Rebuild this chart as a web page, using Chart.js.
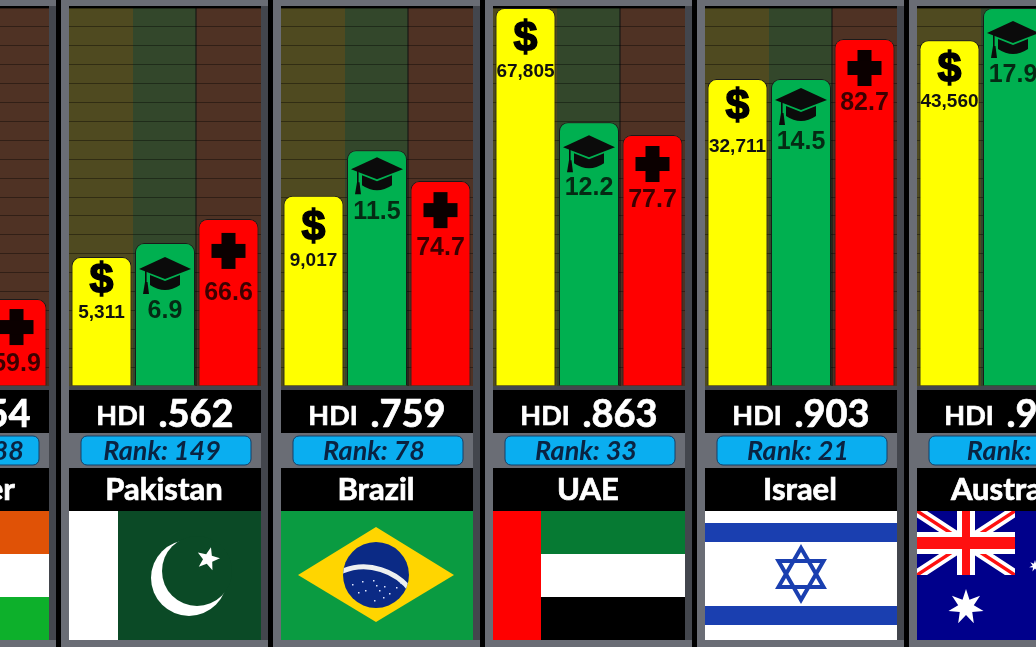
<!DOCTYPE html>
<html>
<head>
<meta charset="utf-8">
<title>HDI comparison</title>
<script src="https://cdn.jsdelivr.net/npm/chart.js@4"></script>
<style>
    html, body { margin: 0; padding: 0; background: #000; width: 1036px; height: 647px; overflow: hidden; }
    #wrap { position: absolute; left: -153px; top: 0; width: 1272px; height: 647px; }
</style>
</head>
<body>
<div id="wrap"><canvas id="chart_hdi" width="1272" height="647"></canvas></div>
<script>
/* ----------------------------------------------------------------------------
                                     DATA
---------------------------------------------------------------------------- */
const countries = ['Niger', 'Pakistan', 'Brazil', 'UAE', 'Israel', 'Australia'];
const hdiLabels = ['.354', '.562', '.759', '.863', '.903', '.944'];
const rankLabels = ['188', '149', '78', '33', '21', '8'];

// printed on the bars
const incomeLabels = ['1,201', '5,311', '9,017', '67,805', '32,711', '43,560'];
const schoolLabels = ['2.1', '6.9', '11.5', '12.2', '14.5', '17.9'];
const lifeLabels = ['59.9', '66.6', '74.7', '77.7', '82.7', '83.4'];

// how full each track is, in percent
const incomeLevel = [8, 34.1, 50.3, 100, 81.2, 91.5];
const schoolLevel = [12, 37.8, 62.4, 69.8, 81.2, 100];
const lifeLevel = [23, 44.2, 54.2, 66.4, 91.8, 97];

/* ----------------------------------------------------------------------------
                                    LAYOUT
---------------------------------------------------------------------------- */
const TOP = 8, BASE = 386;
const colors = {
    yellow: '#ffff00', green: '#00b050', red: '#ff0000',
    trackYellow: '#4f4a20', trackGreen: '#33472b', trackRed: '#4f3224',
    frame: '#6a6d75', frameDark: '#43464d', pill: '#0aaef0', ink: '#0a2342'
};
// label drop below the top of a bar: [icon, value] per country
const incomeDrop = [[28, 63], [23, 56], [31, 65], [30, 64], [27, 68], [29, 62]];
const schoolDrop = [[30, 66], [31, 68], [24, 62], [30, 66], [26, 63], [30, 67]];
const lifeDrop = [[28, 65], [32, 74], [29, 67], [29, 65], [29, 64], [29, 64]];
// the first panel's texts sit off centre
const hdiShift = [9, 0, 0, 0, 0, 0];
const rankShift = [15, 0, 0, 0, 0, 0];
const nameShift = [25, 0, 0, 0, 0, 0];

/* ----------------------------------------------------------------------------
                                  FUNCTIONS
---------------------------------------------------------------------------- */
function star(ctx, x, y, r, inner, points, rot) {
    ctx.beginPath();
    for (let i = 0; i < points * 2; i++) {
        let rad = (i % 2 == 0) ? r : inner;
        let a = rot + i * Math.PI / points;
        ctx.lineTo(x + Math.sin(a) * rad, y - Math.cos(a) * rad);
    }
    ctx.closePath();
    ctx.fill();
}

function dollar(ctx, x, y) {
    ctx.font = 'bold 43px "Liberation Sans"';
    ctx.fillStyle = '#000';
    ctx.strokeStyle = '#000';
    ctx.lineWidth = 1.5;
    ctx.strokeText('$', x, y + 1);
    ctx.fillText('$', x, y + 1);
}

function gradCap(ctx, x, y) {
    ctx.fillStyle = '#0b0b0b';
    // board
    ctx.beginPath();
    ctx.moveTo(x, y - 17);
    ctx.lineTo(x + 26, y - 5);
    ctx.lineTo(x, y + 5);
    ctx.lineTo(x - 26, y - 5);
    ctx.closePath();
    ctx.fill();
    // body
    ctx.beginPath();
    ctx.moveTo(x - 15, y + 1);
    ctx.lineTo(x, y + 7);
    ctx.lineTo(x + 15, y + 1);
    ctx.lineTo(x + 15, y + 11);
    ctx.quadraticCurveTo(x, y + 21, x - 15, y + 11);
    ctx.closePath();
    ctx.fill();
    // tassel
    ctx.fillRect(x - 20, y - 4, 1.6, 14);
    ctx.beginPath();
    ctx.moveTo(x - 20, y + 8);
    ctx.lineTo(x - 17.5, y + 8);
    ctx.lineTo(x - 16, y + 20);
    ctx.lineTo(x - 22, y + 20);
    ctx.closePath();
    ctx.fill();
}

function plus(ctx, x, y) {
    ctx.fillStyle = '#0b0000';
    ctx.fillRect(x - 7, y - 18, 14, 36);
    ctx.fillRect(x - 17, y - 7, 34, 14);
}

function drawFlag(ctx, name, x, y, w, h) {
    ctx.save();
    ctx.beginPath();
    ctx.rect(x, y, w, h);
    ctx.clip();
    if (name == 'Niger') {
        ctx.fillStyle = '#e05206'; ctx.fillRect(x, y, w, h / 3);
        ctx.fillStyle = '#ffffff'; ctx.fillRect(x, y + h / 3, w, h / 3);
        ctx.fillStyle = '#0db02b'; ctx.fillRect(x, y + h * 2 / 3, w, h / 3);
        ctx.fillStyle = '#e05206';
        ctx.beginPath(); ctx.arc(x + w / 2, y + h / 2, 17, 0, Math.PI * 2); ctx.fill();
    }
    if (name == 'Pakistan') {
        ctx.fillStyle = '#0b4a26'; ctx.fillRect(x, y, w, h);
        ctx.fillStyle = '#ffffff'; ctx.fillRect(x, y, 49, h);
        ctx.beginPath(); ctx.arc(x + 120, y + 67, 38, 0, Math.PI * 2); ctx.fill();
        ctx.fillStyle = '#0b4a26';
        ctx.beginPath(); ctx.arc(x + 128, y + 60, 35, 0, Math.PI * 2); ctx.fill();
        ctx.fillStyle = '#ffffff';
        star(ctx, x + 139, y + 48, 12, 5, 5, 0.25);
    }
    if (name == 'Brazil') {
        ctx.fillStyle = '#0a9b41'; ctx.fillRect(x, y, w, h);
        ctx.fillStyle = '#ffd500';
        ctx.beginPath();
        ctx.moveTo(x + w / 2 - 1, y + 16);
        ctx.lineTo(x + w - 19, y + 64);
        ctx.lineTo(x + w / 2 - 1, y + 111);
        ctx.lineTo(x + 17, y + 64);
        ctx.closePath();
        ctx.fill();
        let cx = x + w / 2 - 1, cy = y + 64;
        ctx.fillStyle = '#0b2a85';
        ctx.beginPath(); ctx.arc(cx, cy, 33, 0, Math.PI * 2); ctx.fill();
        ctx.save();
        ctx.beginPath(); ctx.arc(cx, cy, 33, 0, Math.PI * 2); ctx.clip();
        ctx.strokeStyle = '#eef0f0';
        ctx.lineWidth = 5;
        ctx.beginPath(); ctx.arc(cx - 12, cy + 50, 58, -2.05, -0.5); ctx.stroke();
        ctx.restore();
        ctx.fillStyle = '#dfe6ff';
        [[-24, 9], [-14, 6], [-11, 15], [-3, 5], [0, 10], [3, 15], [8, 11], [13, 18], [20, 12], [-2, 25], [7, 22], [-18, 17], [24, 7]].forEach(function(p) {
            ctx.fillRect(cx + p[0], cy + p[1], 1.5, 1.5);
        });
    }
    if (name == 'UAE') {
        ctx.fillStyle = '#067a33'; ctx.fillRect(x, y, w, h / 3);
        ctx.fillStyle = '#ffffff'; ctx.fillRect(x, y + h / 3, w, h / 3);
        ctx.fillStyle = '#000000'; ctx.fillRect(x, y + h * 2 / 3, w, h / 3);
        ctx.fillStyle = '#ff0000'; ctx.fillRect(x, y, 48, h);
    }
    if (name == 'Israel') {
        ctx.fillStyle = '#ffffff'; ctx.fillRect(x, y, w, h);
        ctx.fillStyle = '#1a3fb0';
        ctx.fillRect(x, y + 12, w, 19);
        ctx.fillRect(x, y + 95, w, 19);
        let cx = x + w / 2, cy = y + 63, r = 26;
        ctx.strokeStyle = '#1a3fb0';
        ctx.lineWidth = 4;
        [0, Math.PI].forEach(function(rot) {
            ctx.beginPath();
            for (let i = 0; i < 3; i++) {
                let a = rot + i * Math.PI * 2 / 3;
                ctx.lineTo(cx + Math.sin(a) * r, cy - Math.cos(a) * r);
            }
            ctx.closePath();
            ctx.stroke();
        });
    }
    if (name == 'Australia') {
        ctx.fillStyle = '#00008b'; ctx.fillRect(x, y, w, h);
        let jw = 98, jh = 64;
        ctx.save();
        ctx.beginPath(); ctx.rect(x, y, jw, jh); ctx.clip();
        ctx.strokeStyle = '#ffffff'; ctx.lineWidth = 11;
        ctx.beginPath();
        ctx.moveTo(x, y); ctx.lineTo(x + jw, y + jh);
        ctx.moveTo(x + jw, y); ctx.lineTo(x, y + jh);
        ctx.stroke();
        ctx.strokeStyle = '#ff1010'; ctx.lineWidth = 3.5;
        ctx.beginPath();
        ctx.moveTo(x, y); ctx.lineTo(x + jw, y + jh);
        ctx.moveTo(x + jw, y); ctx.lineTo(x, y + jh);
        ctx.stroke();
        ctx.fillStyle = '#ffffff';
        ctx.fillRect(x + 40, y, 18, jh);
        ctx.fillRect(x, y + 21, jw, 22);
        ctx.fillStyle = '#ff1010';
        ctx.fillRect(x + 45, y, 8, jh);
        ctx.fillRect(x, y + 26, jw, 12);
        ctx.restore();
        ctx.fillStyle = '#ffffff';
        star(ctx, x + 49, y + 96, 18, 8, 7, 0);
        star(ctx, x + 118, y + 55, 6, 2.5, 7, 0);
    }
    ctx.restore();
}

function boldText(ctx, text, x, y) {
    // the reference lettering is a little heavier than Lato bold
    ctx.lineWidth = 0.7;
    ctx.strokeStyle = ctx.fillStyle;
    ctx.strokeText(text, x, y);
    ctx.fillText(text, x, y);
}

/* ----------------------------------------------------------------------------
                                   PLUGIN
---------------------------------------------------------------------------- */
const panelPlugin = {
    id: 'panels',
    beforeDraw(chart) {
        const ctx = chart.ctx;
        const tracks = [colors.trackYellow, colors.trackGreen, colors.trackRed];
        countries.forEach(function(name, i) {
            const c = chart.scales.x.getPixelForValue(i);
            ctx.fillStyle = tracks[0];
            ctx.fillRect(c - 96, TOP, 64, BASE - TOP);
            ctx.fillStyle = tracks[1];
            ctx.fillRect(c - 32, TOP, 63, BASE - TOP);
            ctx.fillStyle = tracks[2];
            ctx.fillRect(c + 31, TOP, 65, BASE - TOP);
            ctx.fillStyle = '#111';
            ctx.fillRect(c + 30.5, TOP, 1, BASE - TOP);
        });
    },
    afterDraw(chart) {
        const ctx = chart.ctx;
        const metas = [chart.getDatasetMeta(0), chart.getDatasetMeta(1), chart.getDatasetMeta(2)];
        countries.forEach(function(name, i) {
            const c = chart.scales.x.getPixelForValue(i);
            const left = c - 96, inner = 192;

            // frame strips, the tracks stay visible inside
            ctx.fillStyle = '#000';
            ctx.fillRect(c - 106, 0, 2, 647);
            ctx.fillRect(c + 103, 0, 3, 647);
            ctx.fillStyle = colors.frame;
            ctx.fillRect(c - 104, 0, 207, 6);
            ctx.fillRect(c - 104, 640, 207, 7);
            ctx.fillRect(c - 104, 0, 8, 647);
            ctx.fillStyle = colors.frameDark;
            ctx.fillRect(c + 96, 6, 7, 634);
            ctx.fillStyle = '#000';
            ctx.fillRect(left, 6, inner, 2);

            // info blocks
            ctx.fillStyle = '#000';
            ctx.fillRect(left, 390, inner, 43);
            ctx.fillRect(left, 468, inner, 43);
            ctx.fillStyle = colors.frameDark;
            ctx.fillRect(left, 386, inner, 4);
            ctx.fillStyle = colors.frame;
            ctx.fillRect(left, 433, inner, 35);
            ctx.fillStyle = colors.pill;
            ctx.strokeStyle = '#12406a';
            ctx.lineWidth = 1;
            ctx.beginPath();
            ctx.roundRect(c - 84, 436, 170, 29, 6);
            ctx.fill();
            ctx.stroke();

            ctx.textAlign = 'center';
            ctx.textBaseline = 'alphabetic';
            ctx.fillStyle = '#fff';
            ctx.font = 'bold 27px Lato';
            boldText(ctx, 'HDI', c - 44 + hdiShift[i], 425);
            ctx.font = 'bold 38px Lato';
            boldText(ctx, hdiLabels[i], c + 31 + hdiShift[i], 427);
            ctx.font = 'bold 31px Lato';
            boldText(ctx, name, c - 1 + nameShift[i], 500);
            ctx.fillStyle = colors.ink;
            ctx.font = 'italic bold 27px Lato';
            ctx.fillText('Rank: ' + rankLabels[i], c - 3 + rankShift[i], 460);

            drawFlag(ctx, name, left, 511, inner, 129);

            // bar contents hang from the bar tops
            ctx.textBaseline = 'middle';
            const a = metas[0].data[i], b = metas[1].data[i], d = metas[2].data[i];
            dollar(ctx, a.x, a.y + incomeDrop[i][0]);
            ctx.font = 'bold 19px "Liberation Sans"';
            ctx.fillStyle = '#111';
            ctx.fillText(incomeLabels[i], a.x, a.y + incomeDrop[i][1]);

            gradCap(ctx, b.x, b.y + schoolDrop[i][0]);
            ctx.font = 'bold 25px "Liberation Sans"';
            ctx.fillStyle = '#052a14';
            ctx.fillText(schoolLabels[i], b.x, b.y + schoolDrop[i][1]);

            plus(ctx, d.x, d.y + lifeDrop[i][0]);
            ctx.font = 'bold 25px "Liberation Sans"';
            ctx.fillStyle = '#3d0000';
            ctx.fillText(lifeLabels[i], d.x, d.y + lifeDrop[i][1]);
        });
    }
};

/* ----------------------------------------------------------------------------
                                    MAIN
---------------------------------------------------------------------------- */
function barSet(label, data, color) {
    return {
        label: label,
        data: data,
        backgroundColor: color,
        borderColor: '#1a1a1a',
        borderWidth: 1,
        borderSkipped: 'bottom',
        borderRadius: { topLeft: 9, topRight: 9, bottomLeft: 0, bottomRight: 0 },
        categoryPercentage: 0.8986,
        barPercentage: 0.945
    };
}

const ctx_hdi = document.getElementById('chart_hdi').getContext('2d');
const chartHdi = new Chart(ctx_hdi, {
    type: 'bar',
    data: {
        labels: countries,
        datasets: [
            barSet('GDP per capita', incomeLevel, colors.yellow),
            barSet('Years of schooling', schoolLevel, colors.green),
            barSet('Life expectancy', lifeLevel, colors.red)
        ]
    },
    options: {
        responsive: false,
        animation: false,
        layout: { padding: { top: TOP, bottom: 647 - BASE, left: 0, right: 0 } },
        plugins: {
            legend: { display: false },
            tooltip: { enabled: false }
        },
        scales: {
            x: { display: false },
            y: {
                min: 0,
                max: 100,
                afterFit: function(scale) { scale.width = 0; },
                border: { display: false },
                ticks: { display: false, stepSize: 5 },
                grid: { color: 'rgba(0,0,0,0.38)', drawTicks: false }
            }
        }
    },
    plugins: [panelPlugin]
});
</script>
</body>
</html>
